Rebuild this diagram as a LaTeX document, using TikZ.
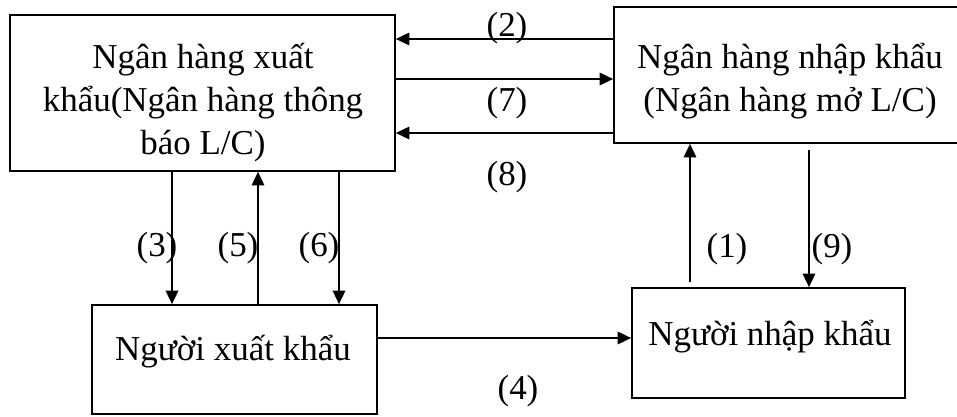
\documentclass[tikz,border=0pt]{standalone}
\usepackage{fontspec}
\setmainfont{Liberation Serif}
\usetikzlibrary{arrows.meta}

\begin{document}
\begin{tikzpicture}[x=0.02cm, y=0.02cm,
    font=\fontsize{19.9pt}{24.5pt}\selectfont,
    box/.style={draw, line width=1pt, inner sep=0pt},
    txt/.style={inner sep=0pt, align=center},
    arr/.style={-{Triangle[length=0.27cm, width=0.25cm]}, line width=1pt},
    num/.style={inner sep=0pt}]
            \useasboundingbox (0,0) rectangle (957,416);
            \node (bankx) at (202.5,323) [box, minimum width=7.7cm, minimum height=3.12cm] {};
            \node (bankxt) at (203,313) [txt] {Ngân hàng xuất\\khẩu(Ngân hàng thông\\báo L/C)};
            \node (bankn) at (787,341) [box, minimum width=6.92cm, minimum height=2.72cm] {};
            \node (banknt) at (790,335) [txt] {Ngân hàng nhập khẩu\\(Ngân hàng mở L/C)};
            \node (xk) at (234.5,56.5) [box, minimum width=5.7cm, minimum height=2.18cm] {};
            \node (xkt) at (233,64) [txt] {Người xuất khẩu};
            \node (nk) at (768.5,73) [box, minimum width=5.46cm, minimum height=2.2cm] {};
            \node (nkt) at (770,79) [txt] {Người nhập khẩu};
            \draw[arr] (bankn.west |- 0,377) -- (bankx.east |- 0,377);
            \draw[arr] (bankx.east |- 0,337) -- (bankn.west |- 0,337);
            \draw[arr] (bankn.west |- 0,283) -- (bankx.east |- 0,283);
            \draw[arr] (bankx.south -| 172,0) -- (xk.north -| 172,0);
            \draw[arr] (xk.north -| 258,0) -- (bankx.south -| 258,0);
            \draw[arr] (bankx.south -| 339,0) -- (xk.north -| 339,0);
            \draw[arr] (xk.east |- 0,78) -- (nk.west |- 0,78);
            \coordinate (c1) at (690,134);
            \draw[arr] (c1) -- (bankn.south -| c1);
            \draw[arr, shorten <=0.12cm] (bankn.south -| 809,0) -- (nk.north -| 809,0);
            \node (l2) at (507,388) [num] {(2)};
            \node (l7) at (507,313) [num] {(7)};
            \node (l8) at (507,239) [num] {(8)};
            \node (l3) at (157,168) [num] {(3)};
            \node (l5) at (238,168) [num] {(5)};
            \node (l6) at (319,168) [num] {(6)};
            \node (l1) at (727,167) [num] {(1)};
            \node (l9) at (832,167) [num] {(9)};
            \node (l4) at (518,25) [num] {(4)};
        \end{tikzpicture}
\end{document}
